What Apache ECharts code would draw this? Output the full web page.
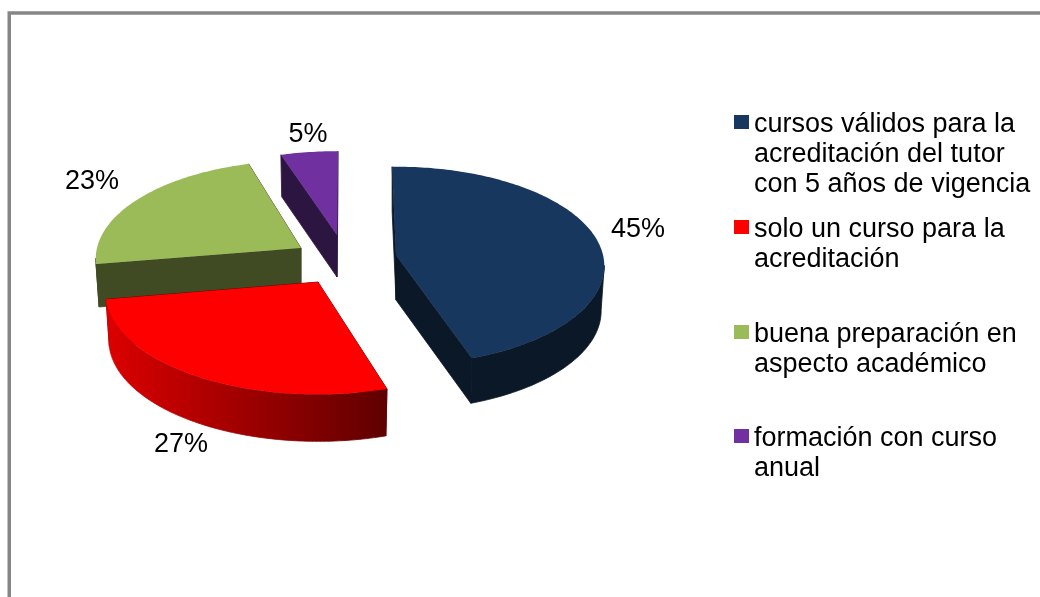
<!DOCTYPE html>
<html><head><meta charset="utf-8">
<style>html,body{margin:0;padding:0;background:#fff;overflow:hidden}#c{width:1040px;height:597px}</style>
<script src="https://cdn.jsdelivr.net/npm/echarts@6/dist/echarts.min.js"></script>
</head><body><div id="c"></div>
<script>
const categories = [
  'cursos válidos para la acreditación del tutor con 5 años de vigencia',
  'solo un curso para la acreditación',
  'buena preparación en aspecto académico',
  'formación con curso anual'
];
const legendLines = [
  ['cursos válidos para la','acreditación del tutor','con 5 años de vigencia'],
  ['solo un curso para la','acreditación'],
  ['buena preparación en','aspecto académico'],
  ['formación con curso','anual']
];
const values = [45, 27, 23, 5];
const topColors = ['#17375e','#ff0000','#9bbb59','#7030a0'];
const sideColors = ['#0a1827',['#dc0000','#5f0000'],'#404a23','#2c1540'];
// per-slice projection (exploded centre, radii, thickness, small angular nudge)
const geometry = [
  {cx:396,cy:255,a:207,b:98,depth:45,nudge:-1.2},
  {cx:318,cy:282,a:211,b:100,depth:47,nudge:1},
  {cx:301,cy:248,a:204,b:97,depth:43,nudge:1.5},
  {cx:337,cy:235,a:204,b:93,depth:42,nudge:0.3}
];
const labelPos = [[638,230],[181,445],[92,182],[308,135]];
const legendIconY = [123,228,333,437];
const drawOrder = [3,2,0,1];
const FONT = '"Liberation Sans", Arial, sans-serif';
const FS = 27, LH = 30, P = 0.11, SPACER = 6;

const total = values.reduce((s,v)=>s+v,0);
const starts = []; let acc = 0;
values.forEach(v=>{starts.push(acc/total*360); acc+=v;});

function pt(g,deg,low){
  const t=deg*Math.PI/180, X=Math.sin(t), Y=Math.cos(t), w=1+P*Y, k=low?0.985:1;
  return [g.cx+k*g.a*X/w, g.cy-g.b*Y/w+(low?g.depth:0)];
}
function arc(g,from,to,low){
  const out=[], n=Math.max(2,Math.ceil(Math.abs(to-from)));
  for(let i=0;i<=n;i++) out.push(pt(g,from+(to-from)*i/n,low));
  return out;
}
function makeItem(i){
  return function(params,api){
    const v=api.value(0), g=geometry[i];
    const s=starts[i]+g.nudge, e=s+v/total*360;
    const apex=[g.cx,g.cy], apexLow=[g.cx,g.cy+g.depth];
    const side=sideColors[i];
    const wallFill=Array.isArray(side)
      ? new echarts.graphic.LinearGradient(0,0,1,0,[{offset:0,color:side[0]},{offset:1,color:side[1]}])
      : side;
    const flat=Array.isArray(side)?side[1]:side;
    const children=[];
    const poly=(points,fill,stroke)=>children.push({type:'polygon',shape:{points},
      style:stroke?{fill,stroke,lineWidth:0.8}:{fill}});
    poly([apex,pt(g,e),pt(g,e,true),apexLow],flat,flat);
    poly([apex,pt(g,s),pt(g,s,true),apexLow],flat,flat);
    const a0=Math.max(s,96), a1=Math.min(e,264);
    if(a1>a0) poly(arc(g,a0,a1).concat(arc(g,a1,a0,true)),wallFill,wallFill);
    poly([apex].concat(arc(g,s,e)),topColors[i]);
    children.push({type:'text',x:labelPos[i][0],y:labelPos[i][1],
      style:{text:Math.round(v/total*100)+'%',fill:'#000',font:FS+'px '+FONT,align:'center',verticalAlign:'middle'}});
    return {type:'group',children};
  };
}
const legends = categories.map((name,i)=>{
  const n=legendLines[i].length;
  const blanks=new Array(n-1).fill('{t| }');
  return {
    data:[name], orient:'vertical', left:734,
    top:legendIconY[i]-((2*n-1)*LH+SPACER)/2, padding:0,
    itemWidth:15,itemHeight:14,itemGap:0,icon:'rect',selectedMode:false,
    formatter:()=> ['{s| }'].concat(blanks,legendLines[i].map(l=>'{t|'+l+'}')).join('\n'),
    textStyle:{color:'#000',rich:{
      s:{fontSize:4,lineHeight:SPACER},
      t:{fontFamily:'Liberation Sans',fontSize:FS,lineHeight:LH,color:'#000'}
    }}
  };
});
const series = drawOrder.map(i=>({
  type:'custom',name:categories[i],coordinateSystem:'none',
  renderItem:makeItem(i),data:[[values[i]]],
  itemStyle:{color:topColors[i]},silent:true
}));
const chart=echarts.init(document.getElementById('c'),null,{renderer:'canvas'});
chart.setOption({
  animation:false,backgroundColor:'#fff',
  legend:legends,
  graphic:[{type:'rect',z:-10,shape:{x:9.25,y:13,width:1200,height:800},style:{fill:'#fff',stroke:'#868686',lineWidth:3.5}}],
  series
});
</script></body></html>
